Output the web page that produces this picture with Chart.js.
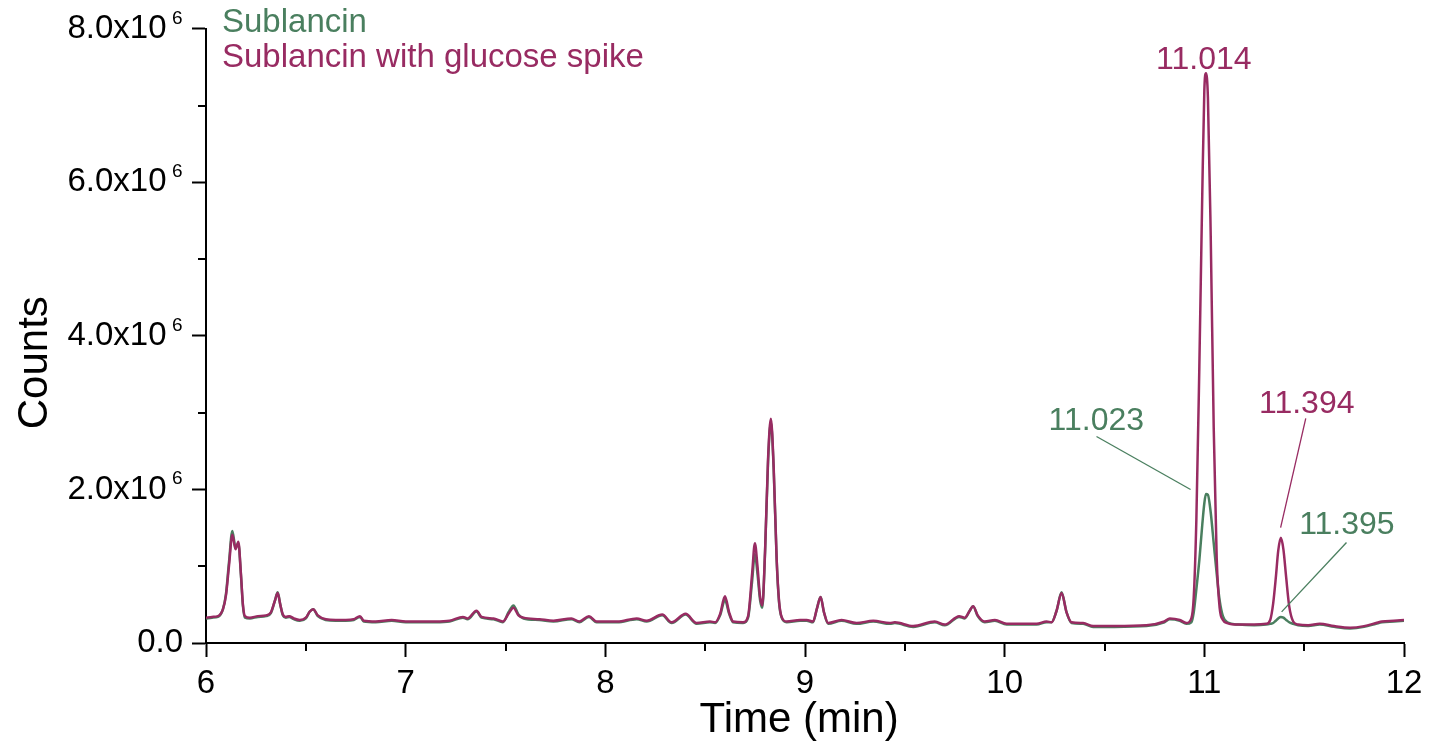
<!DOCTYPE html>
<html>
<head>
<meta charset="utf-8">
<script src="https://cdn.jsdelivr.net/npm/chart.js@4.4.0/dist/chart.umd.min.js"></script>
<style>
  html, body { margin: 0; padding: 0; background: #fff; }
</style>
</head>
<body>
<canvas id="chromatogramChart" width="1430" height="749"></canvas>
<script>
// Retention time (min)
const times = [
    6.00, 6.03, 6.06, 6.085, 6.10, 6.115, 6.132, 6.148, 6.162, 6.175, 6.185, 6.195,
    6.22, 6.26, 6.30, 6.325, 6.345, 6.359, 6.372, 6.385, 6.40, 6.417, 6.44, 6.47,
    6.50, 6.52, 6.537, 6.56, 6.60, 6.65, 6.70, 6.74, 6.771, 6.79, 6.85, 6.93,
    7.00, 7.08, 7.15, 7.22, 7.287, 7.31, 7.355, 7.38, 7.44, 7.487, 7.515, 7.54,
    7.565, 7.59, 7.67, 7.74, 7.83, 7.87, 7.918, 7.956, 8.06, 8.157, 8.207, 8.285,
    8.332, 8.402, 8.457, 8.524, 8.55, 8.575, 8.599, 8.62, 8.64, 8.69, 8.715, 8.735,
    8.749, 8.762, 8.775, 8.786, 8.80, 8.815, 8.829, 8.843, 8.858, 8.87, 8.883, 8.908,
    8.975, 9.008, 9.04, 9.06, 9.078, 9.095, 9.116, 9.183, 9.258, 9.342, 9.425, 9.45,
    9.542, 9.65, 9.70, 9.772, 9.80, 9.825, 9.842, 9.865, 9.90, 9.951, 10.01, 10.16,
    10.21, 10.235, 10.26, 10.285, 10.31, 10.335, 10.393, 10.443, 10.55, 10.71, 10.80, 10.827,
    10.877, 10.91, 10.935, 10.947, 10.96, 10.975, 10.99, 11.0, 11.008, 11.018, 11.032, 11.047,
    11.062, 11.077, 11.093, 11.115, 11.17, 11.25, 11.31, 11.33, 11.345, 11.358, 11.37, 11.383,
    11.396, 11.41, 11.425, 11.445, 11.47, 11.52, 11.578, 11.65, 11.73, 11.80, 11.86, 11.89,
    11.95, 12.00
];

// Counts (x10^6), Sublancin with glucose spike
const spikeCounts = [
    0.33, 0.34, 0.35, 0.44, 0.62, 1.00, 1.41, 1.22, 1.32, 0.90, 0.50, 0.35,
    0.33, 0.35, 0.36, 0.40, 0.55, 0.65, 0.50, 0.37, 0.34, 0.35, 0.32, 0.30,
    0.33, 0.41, 0.44, 0.36, 0.31, 0.30, 0.30, 0.31, 0.35, 0.29, 0.28, 0.30,
    0.28, 0.28, 0.28, 0.29, 0.34, 0.32, 0.42, 0.34, 0.32, 0.28, 0.38, 0.46,
    0.36, 0.33, 0.31, 0.29, 0.32, 0.28, 0.35, 0.28, 0.28, 0.32, 0.29, 0.37,
    0.27, 0.38, 0.26, 0.28, 0.27, 0.38, 0.61, 0.40, 0.28, 0.27, 0.35, 0.90,
    1.30, 1.00, 0.60, 0.49, 1.20, 2.40, 2.92, 2.30, 1.10, 0.55, 0.34, 0.28,
    0.30, 0.30, 0.28, 0.45, 0.60, 0.40, 0.26, 0.30, 0.26, 0.29, 0.26, 0.27,
    0.22, 0.28, 0.24, 0.35, 0.33, 0.42, 0.48, 0.36, 0.28, 0.30, 0.25, 0.25,
    0.28, 0.27, 0.42, 0.65, 0.40, 0.27, 0.26, 0.22, 0.22, 0.23, 0.28, 0.32,
    0.30, 0.26, 0.32, 0.60, 1.60, 3.60, 5.90, 7.20, 7.42, 7.10, 5.30, 2.80,
    1.10, 0.45, 0.30, 0.26, 0.24, 0.24, 0.25, 0.30, 0.52, 0.85, 1.20, 1.37,
    1.22, 0.85, 0.48, 0.28, 0.24, 0.23, 0.25, 0.22, 0.20, 0.22, 0.26, 0.28,
    0.29, 0.30
];

// Counts (x10^6), Sublancin
const sublancinCounts = [
    0.32, 0.33, 0.34, 0.44, 0.64, 1.05, 1.46, 1.24, 1.30, 0.88, 0.48, 0.33,
    0.32, 0.34, 0.35, 0.39, 0.55, 0.66, 0.50, 0.36, 0.33, 0.34, 0.31, 0.29,
    0.32, 0.41, 0.44, 0.35, 0.30, 0.29, 0.29, 0.30, 0.34, 0.28, 0.27, 0.29,
    0.27, 0.27, 0.27, 0.28, 0.33, 0.31, 0.41, 0.33, 0.31, 0.27, 0.40, 0.49,
    0.37, 0.32, 0.30, 0.28, 0.31, 0.27, 0.34, 0.27, 0.27, 0.31, 0.28, 0.36,
    0.26, 0.37, 0.25, 0.27, 0.26, 0.36, 0.56, 0.38, 0.27, 0.26, 0.33, 0.80,
    1.16, 0.90, 0.56, 0.46, 1.18, 2.36, 2.88, 2.27, 1.08, 0.53, 0.33, 0.27,
    0.29, 0.29, 0.27, 0.45, 0.60, 0.40, 0.25, 0.29, 0.25, 0.28, 0.25, 0.26,
    0.21, 0.27, 0.23, 0.34, 0.32, 0.42, 0.48, 0.35, 0.27, 0.29, 0.24, 0.24,
    0.27, 0.27, 0.42, 0.66, 0.40, 0.26, 0.25, 0.21, 0.21, 0.22, 0.27, 0.31,
    0.29, 0.25, 0.27, 0.40, 0.70, 1.08, 1.55, 1.82, 1.94, 1.93, 1.70, 1.30,
    0.90, 0.55, 0.35, 0.27, 0.24, 0.23, 0.24, 0.25, 0.26, 0.29, 0.32, 0.34,
    0.33, 0.30, 0.27, 0.25, 0.23, 0.22, 0.24, 0.21, 0.19, 0.21, 0.25, 0.27,
    0.28, 0.29
];

const seriesNames = ['Sublancin', 'Sublancin with glucose spike'];

// Axis ticks
const xMajorTicks = [6, 7, 8, 9, 10, 11, 12];
const xMinorTicks = [6.5, 7.5, 8.5, 9.5, 10.5, 11.5];
const yMajorTicks = [0, 2e6, 4e6, 6e6, 8e6];
const yMinorTicks = [1e6, 3e6, 5e6, 7e6];
const yTickLabels = ['0.0', '2.0x10', '4.0x10', '6.0x10', '8.0x10'];
const yTickExponent = '6';

// Peak labels and which series they belong to (0 = Sublancin, 1 = spike)
const peakLabels = ['11.014', '11.023', '11.394', '11.395'];
const peakSeries = [1, 0, 1, 0];

const GREEN = '#4a7f5f';
const MAGENTA = '#982b62';
const FONT = "'Liberation Sans', Arial, sans-serif";

// label anchor (time, counts x10^6) and leader line ends, in data units
const annotations = [
    { label: 0, at: [10.9975, 7.47], line: null },
    { label: 1, at: [10.459, 2.78], line: [[10.46, 2.69], [10.931, 2.0]] },
    { label: 2, at: [11.513, 2.99], line: [[11.508, 2.925], [11.382, 1.503]] },
    { label: 3, at: [11.714, 1.418], line: [[11.712, 1.309], [11.387, 0.405]] }
];

const overlayPlugin = {
    id: 'overlay',
    afterDraw(chart) {
        const ctx = chart.ctx;
        const xs = chart.scales.x;
        const ys = chart.scales.y;
        const area = chart.chartArea;
        ctx.save();

        // minor ticks
        ctx.strokeStyle = '#000';
        ctx.lineWidth = 2;
        ctx.beginPath();
        xMinorTicks.forEach(v => {
            const px = Math.round(xs.getPixelForValue(v));
            ctx.moveTo(px, area.bottom);
            ctx.lineTo(px, area.bottom + 8);
        });
        yMinorTicks.forEach(v => {
            const py = Math.round(ys.getPixelForValue(v));
            ctx.moveTo(area.left - 8, py);
            ctx.lineTo(area.left, py);
        });
        ctx.stroke();

        // exponents on the y tick labels
        ctx.font = '19px ' + FONT;
        ctx.fillStyle = '#000';
        ctx.textAlign = 'left';
        ctx.textBaseline = 'alphabetic';
        yMajorTicks.forEach(v => {
            if (v === 0) return;
            const py = ys.getPixelForValue(v);
            ctx.fillText(yTickExponent, area.left - 34, py - 5);
        });

        // legend
        ctx.font = '33px ' + FONT;
        ctx.fillStyle = GREEN;
        ctx.fillText(seriesNames[0], area.left + 16, area.top + 3);
        ctx.fillStyle = MAGENTA;
        ctx.fillText(seriesNames[1], area.left + 16, area.top + 38);

        // peak labels with leader lines
        annotations.forEach(a => {
            const color = peakSeries[a.label] === 1 ? MAGENTA : GREEN;
            ctx.fillStyle = color;
            ctx.textAlign = 'center';
            ctx.font = '32px ' + FONT;
            ctx.fillText(peakLabels[a.label], xs.getPixelForValue(a.at[0]), ys.getPixelForValue(a.at[1] * 1e6));
            if (a.line) {
                ctx.strokeStyle = color;
                ctx.lineWidth = 1.3;
                ctx.beginPath();
                ctx.moveTo(xs.getPixelForValue(a.line[0][0]), ys.getPixelForValue(a.line[0][1] * 1e6));
                ctx.lineTo(xs.getPixelForValue(a.line[1][0]), ys.getPixelForValue(a.line[1][1] * 1e6));
                ctx.stroke();
            }
        });
        ctx.restore();
    }
};

const ctx = document.getElementById('chromatogramChart').getContext('2d');
new Chart(ctx, {
    type: 'line',
    data: {
        datasets: [{
            label: seriesNames[0],
            data: times.map((t, i) => ({ x: t, y: sublancinCounts[i] * 1e6 })),
            borderColor: GREEN,
            borderWidth: 2.5,
            pointRadius: 0,
            fill: false,
            cubicInterpolationMode: 'monotone',
            order: 2
        }, {
            label: seriesNames[1],
            data: times.map((t, i) => ({ x: t, y: spikeCounts[i] * 1e6 })),
            borderColor: MAGENTA,
            borderWidth: 2.5,
            pointRadius: 0,
            fill: false,
            cubicInterpolationMode: 'monotone',
            order: 1
        }]
    },
    options: {
        responsive: false,
        animation: false,
        layout: { padding: { top: 24, right: 26, left: 0, bottom: 0 } },
        plugins: {
            legend: { display: false },
            tooltip: { enabled: false }
        },
        scales: {
            x: {
                type: 'linear',
                min: 6,
                max: 12,
                afterBuildTicks: scale => {
                    scale.ticks = xMajorTicks.concat(xMinorTicks).sort((a, b) => a - b).map(v => ({ value: v }));
                },
                afterFit: scale => { scale.height = 106; },
                ticks: {
                    autoSkip: false,
                    maxRotation: 0,
                    padding: 7,
                    color: '#000',
                    font: { family: FONT, size: 33 },
                    callback: v => xMajorTicks.includes(v) ? String(v) : ''
                },
                grid: {
                    drawOnChartArea: false,
                    tickLength: 14,
                    tickWidth: 2,
                    tickColor: c => xMajorTicks.includes(c.tick.value) ? '#000' : 'rgba(0,0,0,0)'
                },
                border: { display: true, color: '#000', width: 2 },
                title: {
                    display: true,
                    text: 'Time (min) ',
                    color: '#000',
                    font: { family: FONT, size: 42 },
                    padding: { top: 0, bottom: 3 }
                }
            },
            y: {
                min: 0,
                max: 8e6,
                afterBuildTicks: scale => {
                    scale.ticks = yMajorTicks.concat(yMinorTicks).sort((a, b) => a - b).map(v => ({ value: v }));
                },
                afterFit: scale => { scale.width = 206; },
                ticks: {
                    autoSkip: false,
                    padding: 9,
                    color: '#000',
                    font: { family: FONT, size: 33 },
                    callback: v => {
                        const i = yMajorTicks.indexOf(v);
                        if (i < 0) return '';
                        return i === 0 ? yTickLabels[i] : yTickLabels[i] + '\u2002';
                    }
                },
                grid: {
                    drawOnChartArea: false,
                    tickLength: 14,
                    tickWidth: 2,
                    tickColor: c => yMajorTicks.includes(c.tick.value) ? '#000' : 'rgba(0,0,0,0)'
                },
                border: { display: true, color: '#000', width: 2 },
                title: {
                    display: true,
                    text: 'Counts \u2002\u2002',
                    color: '#000',
                    font: { family: FONT, size: 42 },
                    padding: { top: 10, bottom: 0 }
                }
            }
        }
    },
    plugins: [overlayPlugin]
});
</script>
</body>
</html>
